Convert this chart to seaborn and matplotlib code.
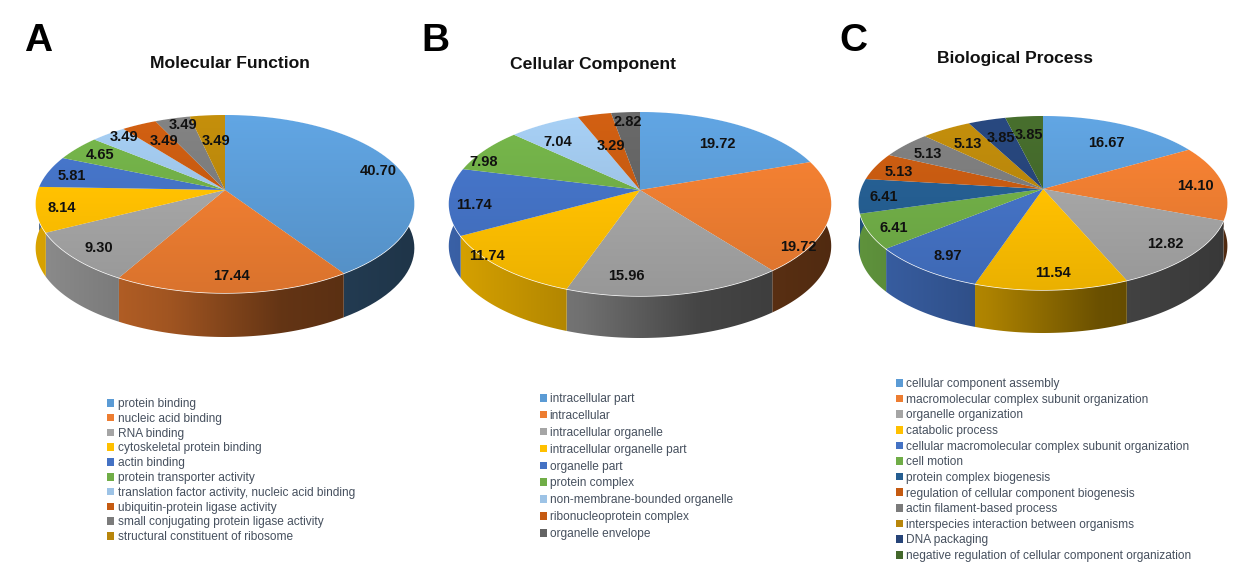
import numpy as np
import matplotlib
matplotlib.use('Agg')
import matplotlib.pyplot as plt
import matplotlib.transforms as mtransforms
from matplotlib.colors import to_rgb
from matplotlib.patches import Patch, Polygon
from matplotlib.path import Path
import seaborn as sns

# data
mf_labels = ['protein binding', 'nucleic acid binding', 'RNA binding', 'cytoskeletal protein binding',
             'actin binding', 'protein transporter activity', 'translation factor activity, nucleic acid binding',
             'ubiquitin-protein ligase activity', 'small conjugating protein ligase activity',
             'structural constituent of ribosome']
mf_values = [40.70, 17.44, 9.30, 8.14, 5.81, 4.65, 3.49, 3.49, 3.49, 3.49]

cc_labels = ['intracellular part', 'intracellular', 'intracellular organelle', 'intracellular organelle part',
             'organelle part', 'protein complex', 'non-membrane-bounded organelle',
             'ribonucleoprotein complex', 'organelle envelope']
cc_values = [19.72, 19.72, 15.96, 11.74, 11.74, 7.98, 7.04, 3.29, 2.82]

bp_labels = ['cellular component assembly', 'macromolecular complex subunit organization', 'organelle organization',
             'catabolic process', 'cellular macromolecular complex subunit organization', 'cell motion',
             'protein complex biogenesis', 'regulation of cellular component biogenesis',
             'actin filament-based process', 'interspecies interaction between organisms', 'DNA packaging',
             'negative regulation of cellular component organization']
bp_values = [16.67, 14.10, 12.82, 11.54, 8.97, 6.41, 6.41, 5.13, 5.13, 5.13, 3.85, 3.85]

mf_colors = ['#5B9BD5', '#ED7D31', '#A5A5A5', '#FFC000', '#4472C4', '#70AD47', '#9DC3E6', '#C55A11', '#7B7B7B', '#B8860B']
cc_colors = ['#5B9BD5', '#ED7D31', '#A5A5A5', '#FFC000', '#4472C4', '#70AD47', '#9DC3E6', '#C55A11', '#636363']
bp_colors = ['#5B9BD5', '#ED7D31', '#A5A5A5', '#FFC000', '#4472C4', '#70AD47', '#255E91', '#C55A11', '#7B7B7B',
             '#B8860B', '#264478', '#43682B']

# label spots, figure pixels
mf_text_x = [378, 231, 99, 62, 72, 100, 124, 164, 183, 216]
mf_text_y = [171, 276, 248, 208, 176, 155, 137, 141, 125, 141]
cc_text_x = [717, 798, 626, 487, 474, 484, 558, 611, 628]
cc_text_y = [144, 247, 276, 256, 205, 162, 142, 146, 122]
bp_text_x = [1106, 1195, 1165, 1053, 948, 894, 884, 899, 928, 968, 1001, 1029]
bp_text_y = [143, 186, 244, 273, 256, 228, 197, 172, 154, 144, 138, 135]

W, H = 1244, 588


class PieView(mtransforms.Transform):
    # tilts a unit pie, the apex stays above the middle of the ellipse
    input_dims = 2
    output_dims = 2
    is_separable = False
    has_inverse = False

    def __init__(self, ax_x, ax_y, rx, up, down):
        super().__init__()
        self.ax_x, self.ax_y, self.rx = ax_x, ax_y, rx
        self.k = (down - up) / (down + up)
        self.s = up * (1 + self.k)

    def transform_non_affine(self, values):
        values = np.asarray(values, dtype=float)
        w = 1 + self.k * values[:, 1]
        return np.column_stack([self.ax_x + self.rx * values[:, 0] / w,
                                self.ax_y - self.s * values[:, 1] / w])

    def transform_path_non_affine(self, path):
        # sample the bezier arcs, moving only the control points bends them
        pts = []
        for seg, code in path.iter_bezier():
            if code == Path.MOVETO:
                pts.append(seg.control_points[:1])
            else:
                pts.append(seg(np.linspace(0, 1, 16))[1:])
        return Path(self.transform_non_affine(np.vstack(pts)))


def shade(x_norm):
    return np.interp(x_norm, [0, 0.35, 0.65, 1], [0.85, 0.68, 0.42, 0.34])


def draw_pie(fig, values, labels, colors, text_x, text_y, geo, legend_at, row_gap, text_pad):
    ax = fig.add_axes([0, 0, 1, 1])
    ax.patch.set_alpha(0)
    palette = sns.color_palette(colors)
    wedges, _ = ax.pie(values, colors=palette, startangle=90, counterclock=False, radius=1)
    view = PieView(*geo[:5])
    depth = geo[5]
    left, right = geo[0] - geo[2] * 1.02, geo[0] + geo[2] * 1.02
    top, bottom = geo[1] - geo[3], geo[1] + geo[4]

    ramp_x = np.linspace(0, 1, 128)
    for w, col in zip(wedges, palette):
        # side wall, shaded left to right
        t = np.radians(np.linspace(w.theta1, w.theta2, 60))
        p = view.transform_non_affine(np.column_stack([np.cos(t), np.sin(t)]))
        wall = Polygon(np.vstack([p, p[::-1] + [0, depth]]), closed=True, facecolor='none', edgecolor='none',
                       transform=ax.transData)
        ax.add_patch(wall)
        side = shade(ramp_x)[None, :, None] * np.array(col)[None, None, :]
        im = ax.imshow(side, extent=(left, right, bottom + depth, top), aspect='auto',
                       interpolation='bilinear', zorder=1)
        im.set_clip_path(wall)

    # top face, soft vertical gradient inside each slice
    for w, col in zip(wedges, palette):
        w.set_transform(view + ax.transData)
        w.set_zorder(2)
        grad = np.linspace(1.07, 0.92, 64)[:, None, None] * np.array(col)[None, None, :]
        im = ax.imshow(np.clip(grad, 0, 1), extent=(left, right, bottom, top), aspect='auto',
                       interpolation='bilinear', zorder=3)
        im.set_clip_path(w)

    for val, tx, ty in zip(values, text_x, text_y):
        ax.text(tx, ty, f'{val:.2f}', ha='center', va='center', fontsize=10.5, fontweight='bold',
                color='#111111', zorder=5)

    handles = [Patch(facecolor=c, edgecolor='none') for c in palette]
    ax.legend(handles, labels, loc='upper left', bbox_to_anchor=legend_at, bbox_transform=ax.transData,
              frameon=False, fontsize=8.6, labelcolor='#46505E', borderpad=0, borderaxespad=0,
              handlelength=0.6, handleheight=0.6, handletextpad=text_pad, labelspacing=row_gap)

    ax.set_xlim(0, W)
    ax.set_ylim(H, 0)
    ax.set_aspect('auto')
    ax.axis('off')
    return ax


sns.set_theme(style='white')
plt.rcParams['font.family'] = ['Liberation Sans', 'DejaVu Sans']

fig = plt.figure(figsize=(W / 100, H / 100), dpi=100, facecolor='white')

# apex x, apex y, radius, height above apex, height below apex, wall depth
draw_pie(fig, mf_values, mf_labels, mf_colors, mf_text_x, mf_text_y, (225, 190, 187, 75, 103, 44), (107, 398), 0.235, 0.3)
draw_pie(fig, cc_values, cc_labels, cc_colors, cc_text_x, cc_text_y, (640, 190, 189, 78, 106, 42), (540, 393), 0.41, 0.2)
draw_pie(fig, bp_values, bp_labels, bp_colors, bp_text_x, bp_text_y, (1043, 189, 182, 73, 101, 43), (896, 378), 0.305, 0.25)

for txt, tx, ty in [('Molecular Function', 230, 63), ('Cellular Component', 593, 65), ('Biological Process', 1015, 59)]:
    fig.text(tx / W, 1 - ty / H, txt, ha='center', va='center', fontsize=12.6, fontweight='bold', color='#111111')
for txt, tx, ty in [('A', 38, 41), ('B', 435, 41), ('C', 853, 41)]:
    fig.text(tx / W, 1 - ty / H, txt, ha='center', va='center', fontsize=28, fontweight='bold', color='black')

fig.savefig('out.png', dpi=100, facecolor='white')
